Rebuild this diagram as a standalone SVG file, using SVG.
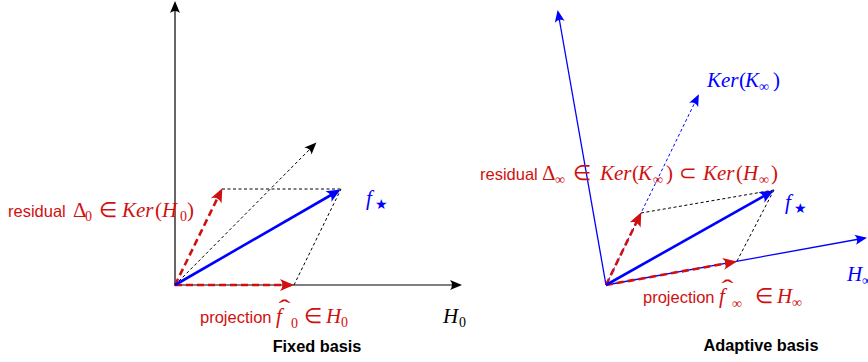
<svg xmlns="http://www.w3.org/2000/svg" width="868" height="362" viewBox="0 0 868 362">
<style>
.sans{font-family:"Liberation Sans",Arial,sans-serif;font-size:16.5px}
.bold{font-family:"Liberation Sans",Arial,sans-serif;font-size:16.3px;font-weight:bold;fill:#000}
.m{font-family:"Liberation Serif","Times New Roman",serif;font-size:21px}
.it{font-style:italic}
.up{font-style:normal}
.sub{font-size:14px}
.red{fill:#d01010}
.blue{fill:#0000ff}
.blk{fill:#000}
.axis{stroke:#000;stroke-width:1.2;fill:none}
.baxis{stroke:#0000ff;stroke-width:1.3;fill:none}
.fstar{stroke:#0000ff;stroke-width:2.6;fill:none}
.rdash{stroke:#d01010;stroke-width:2.6;stroke-dasharray:7,4;fill:none}
.kdash{stroke:#000;stroke-width:1;stroke-dasharray:3,2.5;fill:none}
.bdash{stroke:#0000ff;stroke-width:1;stroke-dasharray:3,2.5;fill:none}
</style>
<defs>
<marker id="ak" markerUnits="userSpaceOnUse" viewBox="-13 -6 14 12" markerWidth="14" markerHeight="12" refX="-2" refY="0" orient="auto"><path d="M0,0 L-12,-5 Q-8,0 -12,5 Z" fill="#000"/></marker>
<marker id="ab" markerUnits="userSpaceOnUse" viewBox="-15 -7 16 14" markerWidth="16" markerHeight="14" refX="-3" refY="0" orient="auto"><path d="M0,0 L-14,-6 Q-9,0 -14,6 Z" fill="#0000ff"/></marker>
<marker id="abs" markerUnits="userSpaceOnUse" viewBox="-13 -6 14 12" markerWidth="14" markerHeight="12" refX="-2" refY="0" orient="auto"><path d="M0,0 L-12,-5 Q-8,0 -12,5 Z" fill="#0000ff"/></marker>
<marker id="ar" markerUnits="userSpaceOnUse" viewBox="-15 -7 16 14" markerWidth="16" markerHeight="14" refX="-3" refY="0" orient="auto"><path d="M0,0 L-14,-6 Q-9,0 -14,6 Z" fill="#d01010"/></marker>
</defs>

<g id="connectors">
<!-- left: fixed basis -->
<line class="axis" x1="175" y1="286" x2="175" y2="3" marker-end="url(#ak)"/>
<line class="axis" x1="175" y1="285" x2="460" y2="285" marker-end="url(#ak)"/>
<line class="kdash" x1="222" y1="189" x2="341" y2="189"/>
<line class="kdash" x1="294" y1="285" x2="341" y2="189"/>
<line class="kdash" x1="175" y1="285" x2="315" y2="144" marker-end="url(#ak)"/>
<line class="rdash" x1="175" y1="285" x2="291" y2="285" marker-end="url(#ar)"/>
<line class="rdash" x1="175" y1="285" x2="221" y2="191" marker-end="url(#ar)"/>
<line class="fstar" x1="175" y1="285" x2="338" y2="191" marker-end="url(#ab)"/>
<!-- right: adaptive basis -->
<line class="baxis" x1="606" y1="285" x2="558" y2="12" marker-end="url(#abs)"/>
<line class="baxis" x1="606" y1="285" x2="865" y2="238" marker-end="url(#abs)"/>
<line class="bdash" x1="606" y1="285" x2="698" y2="96" marker-end="url(#abs)"/>
<line class="kdash" x1="641" y1="213" x2="774" y2="190"/>
<line class="kdash" x1="737" y1="261" x2="774" y2="190"/>
<line class="rdash" x1="606" y1="285" x2="734" y2="262" marker-end="url(#ar)"/>
<line class="rdash" x1="606" y1="285" x2="640" y2="215" marker-end="url(#ar)"/>
<line class="fstar" x1="606" y1="285" x2="771" y2="192" marker-end="url(#ab)"/>
</g>

<g id="left-labels">
<text id="residual0" class="sans red" x="8" y="217">residual<tspan class="m" x="73">Δ</tspan><tspan class="m sub" x="85" y="221">0</tspan><tspan class="m" x="99" y="217">∈</tspan><tspan class="m it" x="122">Ker</tspan><tspan class="m" x="155">(</tspan><tspan class="m it" x="162">H</tspan><tspan class="m sub" x="180" y="221">0</tspan><tspan class="m" x="187" y="217">)</tspan></text>
<text id="fstar0" class="m it blue" x="366" y="205">f<tspan class="sub up" x="375" y="209">★</tspan></text>
<text id="proj0" class="sans red" x="200" y="323">projection<tspan class="m it" x="276">f</tspan><tspan class="m sub" x="291" y="328">0</tspan><tspan class="m" x="304" y="323">∈</tspan><tspan class="m it" x="326">H</tspan><tspan class="m sub" x="341" y="327">0</tspan></text>
<text id="hat0" class="m red" x="0" y="0" transform="translate(284.5,316) scale(1.5,1)" text-anchor="middle" style="font-size:24px">ˆ</text>
<text id="H0" class="m it blk" x="443" y="323">H<tspan class="sub up" x="459" y="327">0</tspan></text>
<text id="title0" class="bold" x="317" y="352" text-anchor="middle">Fixed basis</text>
</g>

<g id="right-labels">
<text id="residualinf" class="sans red" x="480" y="180">residual<tspan class="m" x="542">Δ</tspan><tspan class="m sub" x="555" y="184">∞</tspan><tspan class="m" x="573" y="180">∈</tspan><tspan class="m it" x="600">Ker</tspan><tspan class="m" x="632">(</tspan><tspan class="m it" x="638">K</tspan><tspan class="m sub" x="653" y="184">∞</tspan><tspan class="m" x="666" y="180">)</tspan><tspan class="m" x="679">⊂</tspan><tspan class="m it" x="703">Ker</tspan><tspan class="m" x="736">(</tspan><tspan class="m it" x="743">H</tspan><tspan class="m sub" x="759" y="184">∞</tspan><tspan class="m" x="771" y="180">)</tspan></text>
<text id="kerK" class="m blue" x="707" y="87"><tspan class="it">Ker</tspan><tspan x="739">(</tspan><tspan class="it" x="745">K</tspan><tspan class="sub" x="759" y="91">∞</tspan><tspan x="773" y="87">)</tspan></text>
<text id="fstarinf" class="m it blue" x="785" y="209">f<tspan class="sub up" x="794" y="213">★</tspan></text>
<text id="Hinf" class="m it blue" x="847" y="281">H<tspan class="sub up" x="862" y="285">∞</tspan></text>
<text id="projinf" class="sans red" x="643" y="303">projection<tspan class="m it" x="719">f</tspan><tspan class="m sub" x="732" y="308">∞</tspan><tspan class="m" x="755" y="303">∈</tspan><tspan class="m it" x="777">H</tspan><tspan class="m sub" x="792" y="307">∞</tspan></text>
<text id="hatinf" class="m red" x="0" y="0" transform="translate(727.5,296) scale(1.5,1)" text-anchor="middle" style="font-size:24px">ˆ</text>
<text id="titleinf" class="bold" x="761" y="351" text-anchor="middle">Adaptive basis</text>
</g>
</svg>
